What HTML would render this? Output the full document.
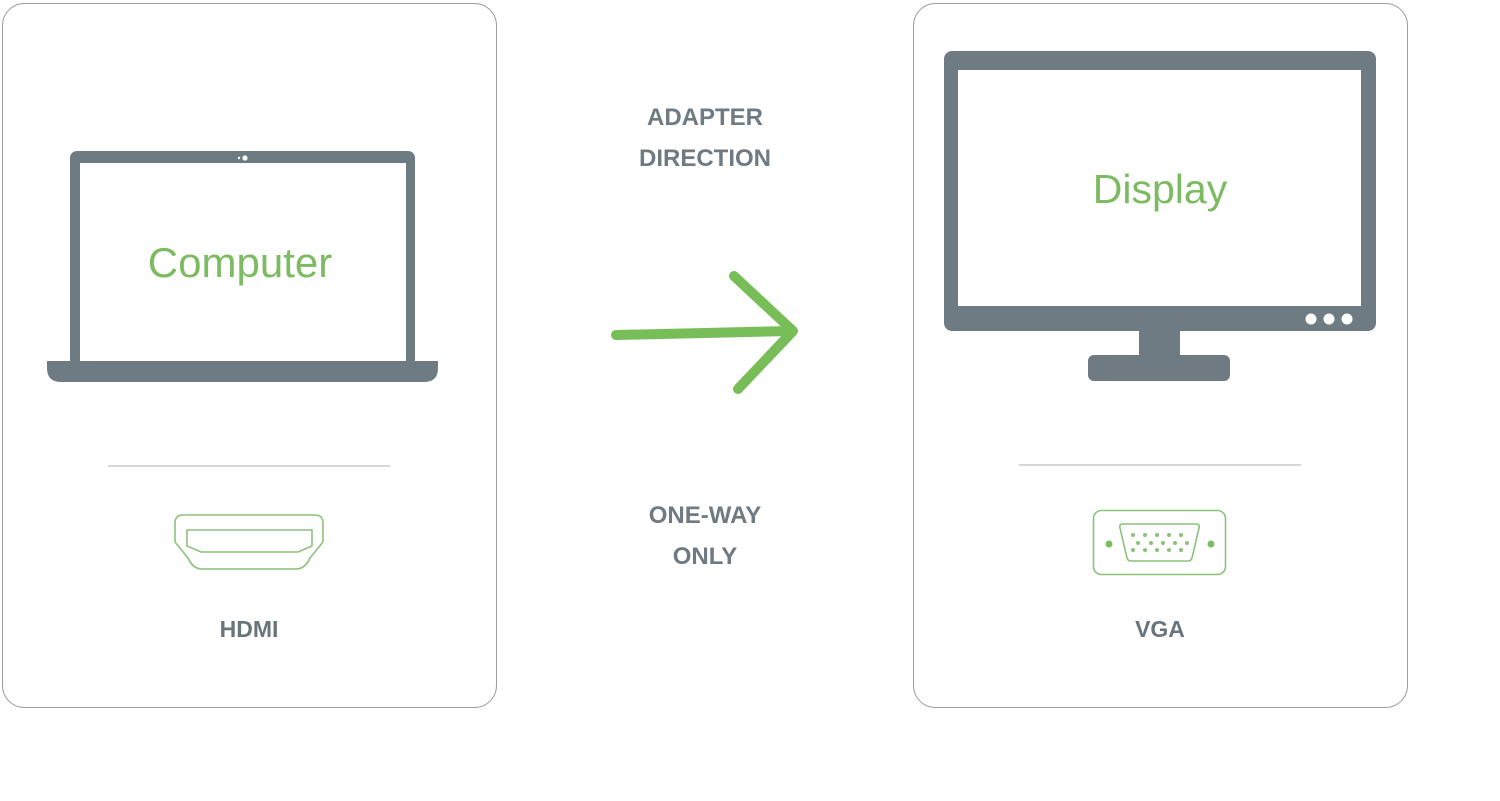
<!DOCTYPE html>
<html><head><meta charset="utf-8"><style>
html,body{margin:0;padding:0;background:#fff;}
svg{display:block;}
text{font-family:"Liberation Sans",sans-serif;}
</style></head><body>
<svg width="1500" height="801" viewBox="0 0 1500 801" xmlns="http://www.w3.org/2000/svg">
<rect x="2.5" y="3.5" width="494" height="704" rx="22" fill="#fff" stroke="#9a9fa3" stroke-width="1"/>
<rect x="913.5" y="3.5" width="494" height="704" rx="22" fill="#fff" stroke="#9a9fa3" stroke-width="1"/>
<!-- laptop -->
<rect x="70" y="151" width="345" height="215" rx="7" fill="#6f7b83"/>
<rect x="80" y="163" width="326" height="203" fill="#fff"/>
<circle cx="245" cy="158" r="2.6" fill="#fff"/><circle cx="239" cy="158" r="1.2" fill="#fff"/>
<path d="M47 361 H438 V368 Q438 382 424 382 H61 Q47 382 47 368 Z" fill="#6f7b83"/>
<text x="240" y="277" text-anchor="middle" font-size="42" fill="#7dbb62">Computer</text>
<!-- monitor -->
<rect x="944" y="51" width="432" height="280" rx="8" fill="#6f7b83"/>
<rect x="958" y="70" width="403" height="236" fill="#fff"/>
<circle cx="1311" cy="319" r="5.5" fill="#fff"/><circle cx="1329" cy="319" r="5.5" fill="#fff"/><circle cx="1347" cy="319" r="5.5" fill="#fff"/>
<rect x="1139" y="329" width="41" height="30" fill="#6f7b83"/>
<rect x="1088" y="355" width="142" height="26" rx="6" fill="#6f7b83"/>
<text x="1160" y="203" text-anchor="middle" font-size="41" fill="#7dbb62">Display</text>
<!-- separators -->
<line x1="108" y1="466" x2="390" y2="466" stroke="#c8cacc" stroke-width="1.5"/>
<line x1="1019" y1="465" x2="1301" y2="465" stroke="#c8cacc" stroke-width="1.5"/>
<!-- HDMI -->
<path d="M183 515 H315 Q323 515 323 523 V542 L310 558 Q305 569 296 569 H202 Q193 569 188 558 L175 542 V523 Q175 515 183 515 Z" fill="none" stroke="#8cc17a" stroke-width="1.6"/>
<path d="M187 530 H312 V546 L298 552 H201 L187 546 Z" fill="none" stroke="#8cc17a" stroke-width="1.6"/>
<text x="249" y="637" text-anchor="middle" font-size="23" font-weight="bold" fill="#69757d">HDMI</text>
<!-- VGA -->
<rect x="1093.5" y="510.5" width="132" height="64" rx="8" fill="none" stroke="#8cc17a" stroke-width="1.6"/>
<path d="M1123 524 H1196 Q1200 524 1199 528 L1192 558 Q1191 561 1188 561 H1131 Q1128 561 1127 558 L1120 528 Q1119 524 1123 524 Z" fill="none" stroke="#8cc17a" stroke-width="1.6"/>
<circle cx="1109" cy="544" r="3.5" fill="#7dbb62"/><circle cx="1211" cy="544" r="3.5" fill="#7dbb62"/>
<g fill="#8cc17a">
<circle cx="1133" cy="535" r="2"/><circle cx="1145" cy="535" r="2"/><circle cx="1157" cy="535" r="2"/><circle cx="1169" cy="535" r="2"/><circle cx="1181" cy="535" r="2"/>
<circle cx="1138" cy="543" r="2"/><circle cx="1151" cy="543" r="2"/><circle cx="1163" cy="543" r="2"/><circle cx="1175" cy="543" r="2"/><circle cx="1187" cy="543" r="2"/>
<circle cx="1133" cy="550" r="2"/><circle cx="1145" cy="550" r="2"/><circle cx="1157" cy="550" r="2"/><circle cx="1169" cy="550" r="2"/><circle cx="1181" cy="550" r="2"/>
</g>
<text x="1160" y="637" text-anchor="middle" font-size="23" font-weight="bold" fill="#69757d">VGA</text>
<!-- middle -->
<g font-size="24" font-weight="bold" fill="#6f7a82" text-anchor="middle">
<text x="705" y="125">ADAPTER</text>
<text x="705" y="166">DIRECTION</text>
<text x="705" y="523">ONE-WAY</text>
<text x="705" y="564">ONLY</text>
</g>
<g stroke="#77bd58" stroke-width="10" stroke-linecap="round" stroke-linejoin="round" fill="none">
<line x1="616" y1="335" x2="792" y2="331"/>
<polyline points="734,276 793,331 738,389"/>
</g>
</svg>
</body></html>
